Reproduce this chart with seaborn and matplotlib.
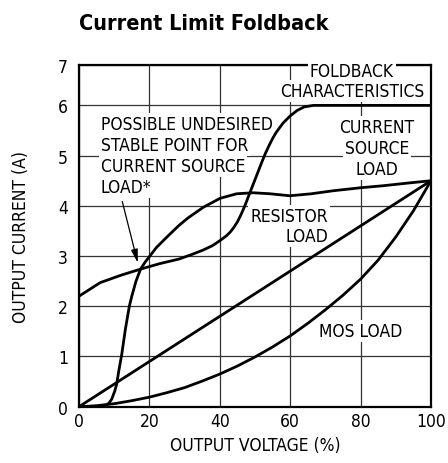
import matplotlib
matplotlib.use('Agg')
import matplotlib.pyplot as plt
import seaborn as sns

# foldback characteristic (current limit vs output voltage)
foldback_x = [0, 6, 12, 17.5, 23, 28.4, 32, 35.3, 38, 40.1, 42, 43, 44, 45, 46, 47, 48, 49, 50, 51, 52, 53,
              54, 55, 56, 58, 60, 62, 64, 66.6, 70, 100]
foldback_y = [2.2, 2.47, 2.62, 2.74, 2.85, 2.94, 3.03, 3.12, 3.21, 3.31, 3.41, 3.48, 3.57, 3.68, 3.82, 3.98, 4.16,
              4.34, 4.52, 4.70, 4.88, 5.05, 5.2, 5.34, 5.46, 5.65, 5.79, 5.9, 5.97, 6.0, 6.0, 6.0]

# current source load
csrc_x = [0, 5, 7.4, 8.5, 9.3, 10.2, 10.7, 11.4, 12.1, 13.2, 14.3, 15.0, 16.2, 17.5, 18.8, 19.9, 22, 25, 28.4,
          31, 35.3, 40.1, 44.8, 49.5, 54.3, 59.9, 66, 72.2, 80, 86.4, 93, 100]
csrc_y = [0, 0, 0.02, 0.07, 0.15, 0.32, 0.45, 0.75, 1.02, 1.55, 2.0, 2.2, 2.5, 2.74, 2.88, 2.98, 3.17, 3.38, 3.61,
          3.76, 3.97, 4.15, 4.24, 4.26, 4.24, 4.2, 4.24, 4.3, 4.36, 4.4, 4.45, 4.5]

# resistor load
res_x = [0, 100]
res_y = [0, 4.5]

# MOS load
mos_x = [0, 5, 10, 15, 20, 25, 30, 35, 40, 45, 50, 55, 60, 65, 70, 75, 80, 85, 90, 95, 100]
mos_y = [0, 0.02, 0.06, 0.12, 0.19, 0.28, 0.38, 0.51, 0.65, 0.81, 0.99, 1.19, 1.41, 1.66, 1.93, 2.22, 2.54, 2.92,
         3.38, 3.9, 4.5]

x_ticks = [0, 20, 40, 60, 80, 100]
y_ticks = [0, 1, 2, 3, 4, 5, 6]

sns.set_style('white')
plt.rcParams['font.family'] = ['DejaVu Sans']
plt.rcParams['font.stretch'] = 'condensed'
plt.rcParams['text.color'] = 'black'
plt.rcParams['axes.labelcolor'] = 'black'

fig = plt.figure(figsize=(4.48, 4.64), dpi=100)
ax = fig.add_axes([0.1763, 0.1213, 0.7857, 0.7371])

for xs, ys in [(foldback_x, foldback_y), (csrc_x, csrc_y), (res_x, res_y), (mos_x, mos_y)]:
    sns.lineplot(x=xs, y=ys, ax=ax, color='black', linewidth=2.0, sort=False, zorder=4)

ytop = 6.81
ax.set_xlim(0, 100)
ax.set_ylim(0, ytop)
ax.set_xticks(x_ticks)
ax.set_yticks(y_ticks + [ytop])
ax.set_yticklabels([str(v) for v in y_ticks] + ['7'])
ax.tick_params(axis='both', length=0, labelsize=12.5, colors='black')
ax.tick_params(axis='y', pad=8)
ax.tick_params(axis='x', pad=4)
ax.set_axisbelow(True)
ax.grid(True, color='#333333', linewidth=0.9)
for s in ax.spines.values():
    s.set_color('black')
    s.set_linewidth(1.6)

ax.set_xlabel('OUTPUT VOLTAGE (%)', fontsize=12.5)
ax.set_ylabel('OUTPUT CURRENT (A)', fontsize=12.5)
ax.xaxis.set_label_coords(0.5, -0.085)
ax.yaxis.set_label_coords(-0.14, 0.5)

fig.text(79 / 448, 1 - 24 / 464, 'Current Limit Foldback', fontsize=15.5, fontweight='bold',
         ha='left', va='center')

box = dict(facecolor='white', edgecolor='none', pad=1.5)
tk = dict(fontsize=12.5, bbox=box, zorder=3, va='center')

for i, line in enumerate(['FOLDBACK', 'CHARACTERISTICS']):
    ax.text(77.5, [6.69, 6.29][i], line, ha='center', **tk)
for i, line in enumerate(['POSSIBLE UNDESIRED', 'STABLE POINT FOR', 'CURRENT SOURCE', 'LOAD*']):
    ax.text(6.2, [5.63, 5.21, 4.79, 4.37][i], line, ha='left', **tk)
for i, line in enumerate(['CURRENT', 'SOURCE', 'LOAD']):
    ax.text(84.7, [5.57, 5.15, 4.73][i], line, ha='center', **tk)
for i, line in enumerate(['RESISTOR', 'LOAD']):
    ax.text(70.7, [3.80, 3.40][i], line, ha='right', **tk)
ax.text(80.1, 1.51, 'MOS LOAD', ha='center', **tk)

ax.annotate('', xy=(16.9, 2.81), xytext=(12.1, 4.14),
            arrowprops=dict(arrowstyle='-|>,head_length=0.8,head_width=0.2', color='black', lw=0.9),
            zorder=5)

fig.savefig('out.png', dpi=100)
